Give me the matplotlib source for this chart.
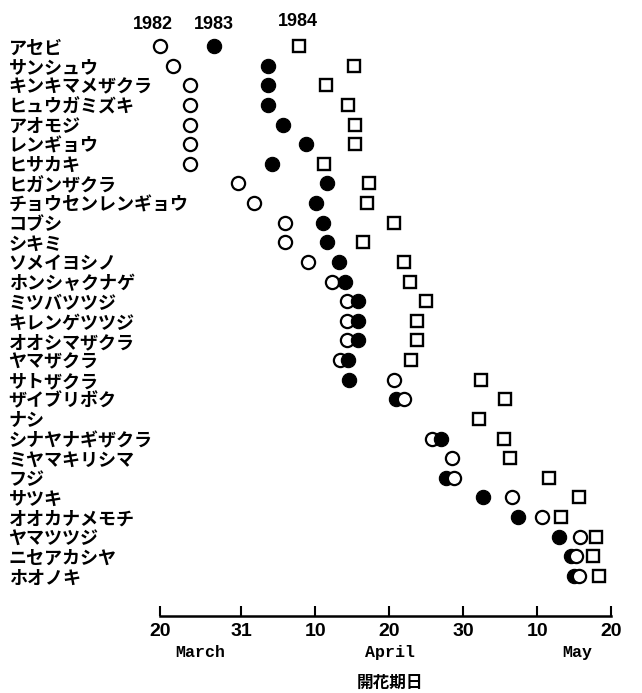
import numpy as np
import matplotlib
matplotlib.use("Agg")
import matplotlib.pyplot as plt

plt.rcParams['font.family'] = ['Noto Sans CJK JP', 'DejaVu Sans']

nan = np.nan

# 植物名（上から順）
plants = ["アセビ", "サンシュウ", "キンキマメザクラ", "ヒュウガミズキ", "アオモジ",
          "レンギョウ", "ヒサカキ", "ヒガンザクラ", "チョウセンレンギョウ", "コブシ",
          "シキミ", "ソメイヨシノ", "ホンシャクナゲ", "ミツバツツジ", "キレンゲツツジ",
          "オオシマザクラ", "ヤマザクラ", "サトザクラ", "ザイブリボク", "ナシ",
          "シナヤナギザクラ", "ミヤマキリシマ", "フジ", "サツキ", "オオカナメモチ",
          "ヤマツツジ", "ニセアカシヤ", "ホオノキ"]

# 開花日（1月1日からの通し日, 3/20 = 79）
bloom_1982 = [79.0, 80.8, 83.1, 83.1, 83.1, 83.1, 83.1, 89.6, 91.7, 95.9,
              95.9, 99.0, 102.3, 104.3, 104.3, 104.3, 103.4, 110.7, 112.0, nan,
              115.8, 118.5, 118.8, 126.6, 130.6, 135.8, 135.3, 135.7]
bloom_1983 = [86.3, 93.6, 93.6, 93.6, 95.6, 98.8, 94.2, 101.6, 100.1, 101.1,
              101.6, 103.2, 104.0, 105.8, 105.8, 105.8, 104.4, 104.6, 110.9, nan,
              117.0, nan, 117.7, 122.7, 127.4, 132.9, 134.6, 135.0]
bloom_1984 = [97.8, 105.3, 101.5, 104.4, 105.4, 105.4, 101.2, 107.3, 107.0, 110.7,
              106.5, 112.0, 112.8, 115.0, 113.8, 113.8, 113.0, 122.4, 125.7, 122.2,
              125.5, 126.4, 131.6, 135.7, 133.3, 138.0, 137.5, 138.4]

# x軸目盛
tick_days = [79, 90, 100, 110, 120, 130, 140]
tick_labels = ["20", "31", "10", "20", "30", "10", "20"]
months = ["March", "April", "May"]
month_pos = [84.5, 110.1, 135.4]
years = ["1982", "1983", "1984"]


def main():
    W, H = 642, 693
    fig = plt.figure(figsize=(W / 100, H / 100), dpi=100)
    ax = fig.add_axes([160 / W, (H - 616) / H, 451 / W, (616 - 30) / H])

    y = np.arange(len(plants))
    b82 = np.array(bloom_1982)
    b83 = np.array(bloom_1983)
    b84 = np.array(bloom_1984)

    # 黒丸より右にある白丸は上に描く
    right = b82 > b83
    ms = 9.5
    ax.plot(b82[~right], y[~right], 'o', ms=ms, mfc='white', mec='black', mew=1.6,
            ls='none', zorder=2, clip_on=False)
    ax.plot(b83, y, 'o', ms=ms + 0.8, mfc='black', mec='black', mew=0.8,
            ls='none', zorder=3, clip_on=False)
    ax.plot(b82[right], y[right], 'o', ms=ms, mfc='white', mec='black', mew=1.6,
            ls='none', zorder=4, clip_on=False)
    ax.plot(b84, y, 's', ms=8.2, mfc='white', mec='black', mew=1.7,
            ls='none', zorder=3, clip_on=False)

    ax.set_xlim(79, 140)
    ax.set_ylim(29.04, -0.815)

    for s in ['top', 'right', 'left']:
        ax.spines[s].set_visible(False)
    ax.spines['bottom'].set_linewidth(1.8)

    ax.set_xticks(tick_days)
    ax.set_xticklabels(tick_labels, family='Liberation Sans', fontweight='bold', fontsize=14)
    ax.tick_params(axis='x', direction='in', length=7, width=1.5, pad=5)

    ax.set_yticks(y)
    ax.set_yticklabels(plants, fontsize=13, fontweight='bold')
    ax.tick_params(axis='y', length=0, pad=109)
    for lab in ax.get_yticklabels():
        lab.set_ha('left')

    # 年のラベル
    year_x = [b82[0] - 1.0, b83[0], b84[0] - 0.2]
    year_y = [-1.07, -1.07, -1.25]
    for yr, xx, yy in zip(years, year_x, year_y):
        ax.text(xx, yy, yr, ha='center', va='center', family='Liberation Sans',
                fontweight='bold', fontsize=13, clip_on=False)

    # 月のラベル
    for m, xx in zip(months, month_pos):
        ax.annotate(m, xy=(xx, 0), xycoords=('data', 'axes fraction'),
                    xytext=(0, -26.6), textcoords='offset points',
                    ha='center', va='center', family='Liberation Mono',
                    fontweight='bold', fontsize=12)

    fig.text(390 / W, 1 - 683 / H, "開花期日", ha='center', va='center',
             fontsize=12, fontweight='bold')

    plt.savefig("out.png", dpi=100)


if __name__ == '__main__':
    main()
